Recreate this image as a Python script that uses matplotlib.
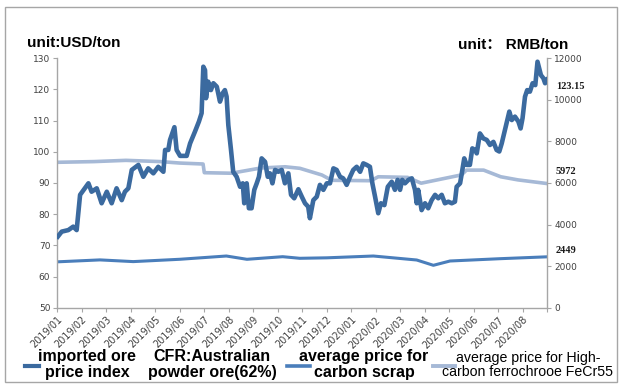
import matplotlib
matplotlib.use("Agg")
import matplotlib.pyplot as plt
from matplotlib.lines import Line2D
from matplotlib.patches import Rectangle

# ---------------- data ----------------
month_labels = ["2019/01", "2019/02", "2019/03", "2019/04", "2019/05", "2019/06",
                "2019/07", "2019/08", "2019/09", "2019/10", "2019/11", "2019/12",
                "2020/01", "2020/02", "2020/03", "2020/04", "2020/05", "2020/06",
                "2020/07", "2020/08"]

# imported ore price index CFR Australian powder ore 62% (USD/ton), x in months since 2019/01
ore_t = [0.02, 0.18, 0.45, 0.65, 0.79, 0.93, 1.27, 1.40, 1.61, 1.81, 2.02, 2.22, 2.42, 2.63,
         2.76, 2.90, 3.04, 3.31, 3.51, 3.71, 3.92, 4.12, 4.33, 4.40, 4.53, 4.60, 4.78, 4.87,
         5.01, 5.28, 5.42, 5.62, 5.78, 5.89, 5.96, 6.03, 6.07, 6.16, 6.27, 6.37, 6.51, 6.64,
         6.75, 6.84, 6.91, 6.98, 7.09, 7.18, 7.32, 7.46, 7.57, 7.63, 7.73, 7.82, 7.93, 8.04,
         8.14, 8.23, 8.34, 8.48, 8.59, 8.68, 8.78, 8.89, 9.02, 9.16, 9.29, 9.43, 9.54, 9.67,
         9.84, 9.98, 10.11, 10.24, 10.31, 10.45, 10.59, 10.72, 10.86, 11.00, 11.13, 11.27,
         11.40, 11.54, 11.67, 11.81, 11.95, 12.08, 12.22, 12.36, 12.49, 12.63, 12.76, 12.86,
         12.97, 13.10, 13.21, 13.35, 13.49, 13.65, 13.78, 13.89, 13.99, 14.08, 14.19, 14.33,
         14.47, 14.60, 14.67, 14.73, 14.87, 15.01, 15.14, 15.28, 15.42, 15.55, 15.69, 15.82,
         15.96, 16.10, 16.23, 16.30, 16.44, 16.51, 16.61, 16.71, 16.84, 16.94, 17.05, 17.12,
         17.25, 17.39, 17.53, 17.66, 17.80, 17.93, 18.04, 18.14, 18.27, 18.37, 18.45, 18.55,
         18.68, 18.82, 18.91, 18.99, 19.09, 19.18, 19.29, 19.40, 19.51, 19.60, 19.69, 19.74,
         19.84, 19.91, 19.99]
ore_v = [72.8, 74.4, 74.9, 76.0, 74.9, 86.2, 89.9, 87.2, 88.3, 83.5, 87.2, 83.5, 88.3, 84.5,
         87.2, 88.3, 94.2, 95.8, 92.0, 94.7, 93.1, 95.2, 93.6, 100.6, 100.6, 103.8, 107.9, 100.6,
         98.7, 98.7, 102.7, 106.5, 109.7, 112.4, 127.3, 126.2, 117.2, 122.5, 119.8, 122.0, 120.9, 116.1,
         118.8, 119.8, 117.7, 108.6, 100.6, 93.6, 92.0, 88.8, 89.9, 83.5, 89.9, 81.9, 81.9, 87.8,
         89.9, 92.0, 97.9, 96.8, 92.0, 93.1, 89.9, 94.2, 93.6, 94.2, 89.9, 93.1, 86.2, 85.1,
         88.0, 85.6, 83.5, 82.4, 78.7, 84.5, 85.6, 89.4, 87.8, 89.9, 89.9, 94.7,
         94.2, 92.0, 91.5, 89.4, 92.0, 94.2, 95.2, 93.6, 96.3, 95.8, 95.2, 89.9,
         85.6, 80.3, 83.5, 82.9, 88.8, 90.4, 87.8, 91.0, 87.8, 91.0, 89.9, 91.0,
         91.5, 87.8, 83.5, 87.8, 81.3, 83.5, 81.9, 84.5, 86.2, 85.1, 86.2, 83.5,
         84.0, 83.5, 84.0, 88.8, 89.9, 93.1, 97.9, 95.8, 95.8, 101.1, 100.6, 99.5,
         105.9, 104.3, 103.8, 102.2, 103.2, 100.6, 100.1, 102.7, 107.0, 110.2, 112.9, 110.2,
         111.3, 109.7, 107.5, 110.8, 117.7, 119.8, 119.3, 122.0, 121.4, 128.9, 126.2, 124.6,
         123.6, 122.0, 123.15]

# average price for carbon scrap (RMB/ton)
scrap_t = [0.0, 1.74, 3.1, 5.0, 6.9, 7.74, 9.2, 9.9, 11.0, 12.9, 14.67, 15.35, 16.03, 18.07, 20.0]
scrap_v = [2207, 2300, 2218, 2330, 2487, 2329, 2454, 2377, 2400, 2487, 2295, 2040, 2247, 2358, 2449]

# average price for High-carbon ferrochrome FeCr55 (RMB/ton)
fecr_t = [0.0, 1.5, 2.8, 4.2, 5.0, 5.95, 6.0, 7.1, 8.3, 9.3, 9.9, 10.8, 11.2, 12.8, 13.1,
          14.3, 14.85, 16.5, 16.7, 17.4, 18.1, 18.8, 20.0]
fecr_v = [6996, 7030, 7090, 7030, 6960, 6914, 6496, 6470, 6720, 6780, 6707, 6385, 6130, 6110, 6300,
          6270, 5990, 6390, 6620, 6620, 6300, 6150, 5972]

left_ticks = [50, 60, 70, 80, 90, 100, 110, 120, 130]
right_ticks = [0, 2000, 4000, 6000, 8000, 10000, 12000]

# ---------------- style ----------------
c_ore = "#3B6A9F"
c_scrap = "#4A7EBB"
c_fecr = "#A6B9D6"
spine_c = "#A6A6A6"
tick_c = "#404040"

W, H = 623, 389
fig = plt.figure(figsize=(W / 100, H / 100), dpi=100)
fig.patch.set_facecolor("white")

def fx(px):
    return px / W

def fy(py):
    return 1 - py / H

ax = fig.add_axes([fx(57.3), fy(307.7), fx(547.3) - fx(57.3), fy(58.3) - fy(307.7)])
ax2 = ax.twinx()

ax2.plot(fecr_t, fecr_v, color=c_fecr, lw=2.6, solid_capstyle="butt", zorder=2)
ax2.plot(scrap_t, scrap_v, color=c_scrap, lw=2.2, solid_capstyle="butt", zorder=2)
ax.set_zorder(ax2.get_zorder() + 1)
ax.patch.set_visible(False)
ax.plot(ore_t, ore_v, color=c_ore, lw=3.3, solid_joinstyle="round", zorder=3)

ax.set_xlim(0, 20)
ax.set_ylim(50, 130)
ax2.set_ylim(0, 12000)

ax.set_xticks(range(0, 21))
ax.set_xticklabels(month_labels + [""], rotation=45, ha="right", rotation_mode="anchor",
                   fontsize=7, color=tick_c)
ax.set_yticks(left_ticks)
ax.set_yticklabels([str(v) for v in left_ticks], fontsize=6.5, color=tick_c)
ax2.set_yticks(right_ticks)
ax2.set_yticklabels([str(v) for v in right_ticks], fontsize=6.5, color=tick_c)

for a in (ax, ax2):
    a.spines["top"].set_visible(False)
    for s in ("left", "right", "bottom"):
        a.spines[s].set_color(spine_c)
        a.spines[s].set_linewidth(1.0)
    a.tick_params(length=3, width=0.8, color=spine_c, pad=2)
ax.spines["right"].set_visible(False)
ax2.spines["left"].set_visible(False)
ax2.spines["bottom"].set_visible(False)

# end-value annotations
ann_font = dict(fontsize=7.5, fontweight="bold", family=["Liberation Serif", "DejaVu Serif"],
                color="#1a1a1a", va="center", ha="left", clip_on=False)
ax.text(20.35, 121.1, "123.15", **ann_font)
ax2.text(20.35, 6530, "5972", **ann_font)
ax2.text(20.35, 2730, "2449", **ann_font)

# unit labels
fig.text(fx(26.5), fy(43), "unit:USD/ton", fontsize=11, fontweight="bold",
         family=["Liberation Sans", "DejaVu Sans"], va="center", ha="left")
fig.text(fx(458), fy(45), "unit： RMB/ton", fontsize=11, fontweight="bold",
         family=["Liberation Sans", "Noto Sans CJK SC"], va="center", ha="left")

# legend (manual)
leg_font = dict(fontsize=11.5, fontweight="bold", family=["Liberation Sans", "DejaVu Sans"],
                ha="center", va="center", linespacing=1.1)
fig.add_artist(Line2D([fx(25), fx(38.5)], [fy(365.7), fy(365.7)], color=c_ore, lw=3.0))
fig.text(fx(87), fy(364.5), "imported ore\nprice index", **leg_font)
fig.text(fx(212), fy(364.5), "CFR:Australian\npowder ore(62%)", **leg_font)
fig.add_artist(Line2D([fx(287), fx(310)], [fy(365.5), fy(365.5)], color=c_scrap, lw=2.6))
fig.text(fx(364), fy(364.5), "average price for\ncarbon scrap", **leg_font)
fig.add_artist(Line2D([fx(433), fx(455)], [fy(365.5), fy(365.5)], color=c_fecr, lw=2.8))
fig.text(fx(528), fy(365), "average price for High-\ncarbon ferrochrooe FeCr55", fontsize=10.2,
         family=["Liberation Sans", "DejaVu Sans"], ha="center", va="center", linespacing=1.05)

# outer border
fig.add_artist(Rectangle((fx(5), fy(382)), fx(616.7) - fx(5), fy(6.7) - fy(382),
                         transform=fig.transFigure, fill=False, edgecolor="#A6A6A6", lw=1.0))

fig.savefig("out.png", dpi=100, facecolor="white")
